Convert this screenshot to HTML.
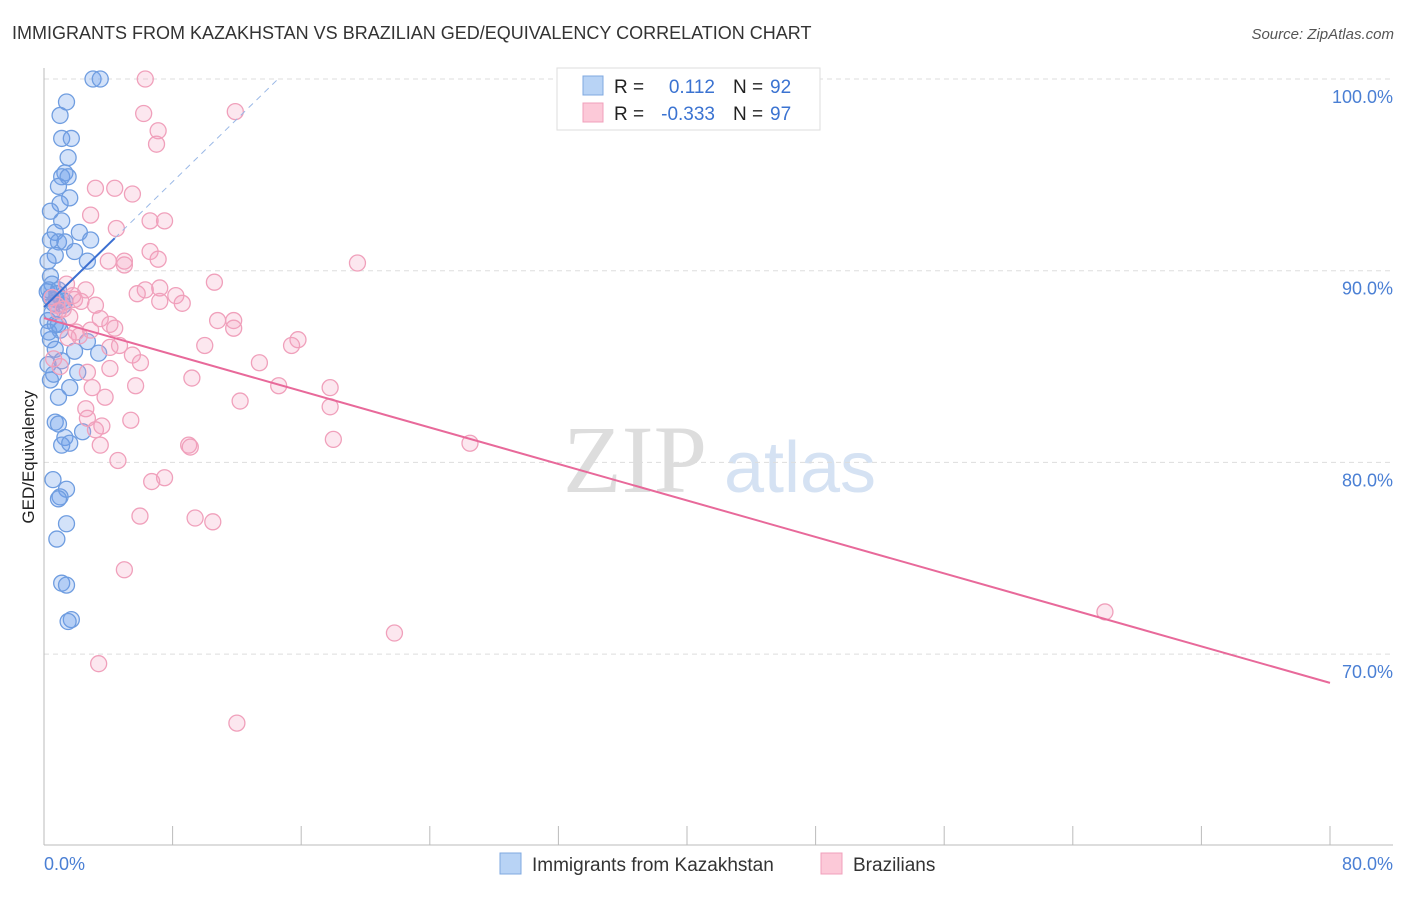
<!DOCTYPE html>
<html><head><meta charset="utf-8"><style>
body{margin:0;background:#fff;font-family:"Liberation Sans",sans-serif}
</style></head><body>
<svg id="c" width="1406" height="892" xmlns="http://www.w3.org/2000/svg">
<text x="12" y="39" font-size="18" fill="#333">IMMIGRANTS FROM KAZAKHSTAN VS BRAZILIAN GED/EQUIVALENCY CORRELATION CHART</text>
<text x="1394" y="39" font-size="15" fill="#555" text-anchor="end" font-style="italic">Source: ZipAtlas.com</text>
<text x="635" y="492" font-size="96" fill="#ddd" font-family="Liberation Serif" text-anchor="middle">ZIP</text>
<text x="800" y="492" font-size="72" fill="#d5e2f3" text-anchor="middle">atlas</text>
<g id="grid"></g>
<g id="axes"></g>
<g id="pts"></g>
<g id="trend"></g>
<text transform="translate(34,457) rotate(-90)" font-size="17" fill="#222" text-anchor="middle">GED/Equivalency</text>
<text x="44" y="870" font-size="18" fill="#4a7fd4">0.0%</text>
<text x="1393" y="870" font-size="18" fill="#4a7fd4" text-anchor="end">80.0%</text>
<g>
<rect x="557" y="68" width="263" height="62" fill="#fff" stroke="#ddd"/>
<rect x="583" y="76" width="20" height="19" fill="#b8d3f5" stroke="#7fa8e0"/>
<rect x="583" y="103" width="20" height="19" fill="#fcc9d8" stroke="#f0a0bb"/>
<text x="614" y="93" font-size="19" fill="#222">R =</text>
<text x="715" y="93" font-size="19" fill="#3b73d1" text-anchor="end">0.112</text>
<text x="733" y="93" font-size="19" fill="#222">N =</text>
<text x="770" y="93" font-size="19" fill="#3b73d1">92</text>
<text x="614" y="120" font-size="19" fill="#222">R =</text>
<text x="715" y="120" font-size="19" fill="#3b73d1" text-anchor="end">-0.333</text>
<text x="733" y="120" font-size="19" fill="#222">N =</text>
<text x="770" y="120" font-size="19" fill="#3b73d1">97</text>
</g>
<g>
<rect x="500" y="853" width="21" height="21" fill="#b8d3f5" stroke="#7fa8e0"/>
<text x="532" y="871" font-size="19" fill="#333">Immigrants from Kazakhstan</text>
<rect x="821" y="853" width="21" height="21" fill="#fcc9d8" stroke="#f0a0bb"/>
<text x="853" y="871" font-size="19" fill="#333">Brazilians</text>
</g>
</svg>
<script>
const yTicks=[100,90,80,70];
const yTickLabels=["100.0%","90.0%","80.0%","70.0%"];
const xTicks=[0,8,16,24,32,40,48,56,64,72,80];
const blueX=[3.05,3.5,1.4,1.0,1.1,1.7,1.5,1.3,1.1,1.5,0.9,1.6,1.0,0.4,1.1,0.7,2.2,0.4,0.9,1.3,2.9,1.9,0.7,2.7,0.25,0.4,0.5,0.9,0.4,0.75,1.1,0.25,0.7,1.0,0.4,2.7,0.7,1.9,3.4,0.25,1.1,2.1,0.4,1.6,0.9,0.7,0.9,2.4,1.3,1.1,1.6,0.56,1.4,1.0,0.9,1.4,0.8,1.1,1.4,1.7,1.5,0.3,0.6,0.8,1.2,0.5,0.3,0.9,1.3,0.2,0.6];
const blueY=[100,100,98.8,98.1,96.9,96.9,95.9,95.1,94.9,94.9,94.4,93.8,93.5,93.1,92.6,92.0,92.0,91.6,91.5,91.5,91.6,91.0,90.8,90.5,90.5,89.7,89.3,89.0,88.6,88.5,88.5,87.4,87.2,86.9,86.4,86.3,85.9,85.8,85.7,85.1,85.3,84.7,84.3,83.9,83.4,82.1,82.0,81.6,81.3,80.9,81.0,79.1,78.6,78.2,78.1,76.8,76.0,73.7,73.6,71.8,71.7,89.0,88.3,88.8,88.2,87.8,86.8,87.2,88.4,88.9,84.6];
const pinkX=[6.3,11.9,6.2,7.1,7.0,3.2,4.4,5.5,2.9,6.6,7.5,4.5,6.6,7.1,5.0,5.0,4.0,19.5,10.6,7.2,6.3,5.8,8.2,7.2,8.6,2.6,1.4,1.9,3.2,3.5,10.8,11.8,11.8,4.1,4.4,2.9,2.2,4.7,4.1,10.0,15.8,15.4,5.5,6.0,13.4,4.1,2.7,9.2,5.7,14.6,17.8,3.0,3.8,12.2,17.8,2.6,2.7,5.4,3.6,3.2,18.0,26.5,3.5,9.0,9.1,4.6,7.5,6.7,5.97,9.4,10.5,5.0,66.0,21.8,3.4,12.0,0.5,0.8,1.2,1.6,2.0,0.6,1.0,1.5,2.3,0.9,1.8];
const pinkY=[100,98.3,98.2,97.3,96.6,94.3,94.3,94.0,92.9,92.6,92.6,92.2,91.0,90.6,90.5,90.3,90.5,90.4,89.4,89.1,89.0,88.8,88.7,88.4,88.3,89.0,89.3,88.5,88.2,87.5,87.4,87.4,87.0,87.2,87.0,86.9,86.6,86.1,86.0,86.1,86.4,86.1,85.6,85.2,85.2,84.9,84.7,84.4,84.0,84.0,83.9,83.9,83.4,83.2,82.9,82.8,82.3,82.2,81.9,81.7,81.2,81.0,80.9,80.9,80.8,80.1,79.2,79.0,77.2,77.1,76.9,74.4,72.2,71.1,69.5,66.4,88.6,88.2,88.0,87.6,86.8,85.4,85.0,86.5,88.4,87.9,88.7];
const blueTrend=[[0,88.1],[14.56,100]];
const pinkTrend=[[0,87.53],[80,68.5]];
const NS="http://www.w3.org/2000/svg";
const X=v=>44+v*16.075, Y=v=>79+(100-v)*19.17;
function mk(t,a,p){const e=document.createElementNS(NS,t);for(const k in a)e.setAttribute(k,a[k]);document.getElementById(p).appendChild(e);return e;}
yTicks.forEach((t,i)=>{
 const l=mk('line',{x1:44,x2:1393,y1:Y(t),y2:Y(t),stroke:'#ddd','stroke-dasharray':'5,4'},'grid');
 
 
 const tx=mk('text',{x:1393,y:Y(t)+24,'font-size':18,fill:'#4a7fd4','text-anchor':'end'},'grid');
 tx.textContent=yTickLabels[i];
 
 
});
const ax=mk('line',{x1:44,x2:1393,y1:845,y2:845,stroke:'#bbb'},'axes');


const ay=mk('line',{x1:44,x2:44,y1:68,y2:845,stroke:'#bbb'},'axes');


xTicks.forEach(t=>{
 const l=mk('line',{x1:X(t),x2:X(t),y1:826,y2:845,stroke:'#bbb'},'axes');
 
 
});
blueX.forEach((v,i)=>{
 const c=mk('circle',{cx:X(v),cy:Y(blueY[i]),r:8,fill:'rgba(110,160,235,0.3)',stroke:'#6f9de0','stroke-width':1.3},'pts');
 
 
});
pinkX.forEach((v,i)=>{
 const c=mk('circle',{cx:X(v),cy:Y(pinkY[i]),r:8,fill:'rgba(245,160,190,0.25)',stroke:'#f0a0bb','stroke-width':1.3},'pts');
 
 
});
const bs=blueTrend, bm=(bs[1][1]-bs[0][1])/(bs[1][0]-bs[0][0]);
const b1=mk('line',{x1:X(bs[0][0]),y1:Y(bs[0][1]),x2:X(4.4),y2:Y(bs[0][1]+bm*4.4),stroke:'#3b6fd1','stroke-width':2},'trend');


const b2=mk('line',{x1:X(4.4),y1:Y(bs[0][1]+bm*4.4),x2:X(bs[1][0]),y2:Y(bs[1][1]),stroke:'#9ab8e6','stroke-width':1,'stroke-dasharray':'6,5'},'trend');


const p1=mk('line',{x1:X(pinkTrend[0][0]),y1:Y(pinkTrend[0][1]),x2:X(pinkTrend[1][0]),y2:Y(pinkTrend[1][1]),stroke:'#e8699a','stroke-width':2},'trend');


</script>
</body></html>
